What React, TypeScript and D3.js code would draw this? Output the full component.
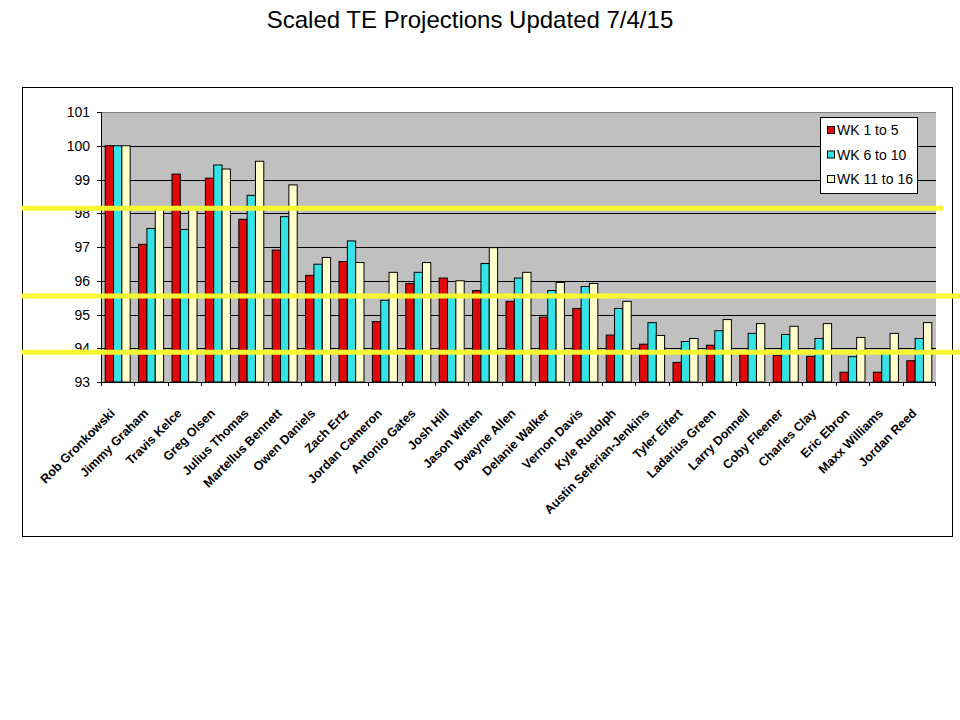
import React from "react";
import * as d3 from "d3";

const players = [
  "Rob Gronkowski", "Jimmy Graham", "Travis Kelce", "Greg Olsen", "Julius Thomas",
  "Martellus Bennett", "Owen Daniels", "Zach Ertz", "Jordan Cameron", "Antonio Gates",
  "Josh Hill", "Jason Witten", "Dwayne Allen", "Delanie Walker", "Vernon Davis",
  "Kyle Rudolph", "Austin Seferian-Jenkins", "Tyler Eifert", "Ladarius Green", "Larry Donnell",
  "Coby Fleener", "Charles Clay", "Eric Ebron", "Maxx Williams", "Jordan Reed",
];

const wk1to5 = [100, 97.08, 99.16, 99.04, 97.82, 96.91, 96.16, 96.57, 94.79, 95.92, 96.08, 95.71, 95.39, 94.92, 95.18, 94.39, 94.12, 93.58, 94.09, 93.88, 93.79, 93.76, 93.29, 93.29, 93.63];
const wk6to10 = [100, 97.55, 97.52, 99.43, 98.53, 97.9, 96.49, 97.18, 95.42, 96.25, 95.55, 96.51, 96.08, 95.71, 95.83, 95.18, 94.76, 94.2, 94.52, 94.44, 94.41, 94.29, 93.75, 93.88, 94.29];
const wk11to16 = [100, 98.12, 98.12, 99.31, 99.54, 98.84, 96.69, 96.54, 96.25, 96.54, 96.0, 96.98, 96.25, 95.95, 95.92, 95.39, 94.38, 94.29, 94.85, 94.73, 94.65, 94.73, 94.32, 94.44, 94.76];

const seriesNames = ["WK 1 to 5", "WK 6 to 10", "WK 11 to 16"];
const seriesColors = ["#e00a0a", "#33e3e6", "#ffffcc"];
const yTicks = [93, 94, 95, 96, 97, 98, 99, 100, 101];
const markerLevels = [98.15, 95.55, 93.88];

const title = "Scaled TE Projections Updated 7/4/15";

export default function App() {
  const W = 960, H = 720;
  const left = 101, right = 936, top = 112, bottom = 382;
  const series = [wk1to5, wk6to10, wk11to16];

  const x = d3.scaleBand<string>().domain(players).range([left, right]).paddingInner(0).paddingOuter(0);
  const y = d3.scaleLinear().domain([93, 101]).range([bottom, top]);
  const bw = x.bandwidth();
  const groupPad = 4.2;
  const sub = d3.scaleBand<number>().domain([0, 1, 2]).range([groupPad, bw - groupPad]);

  const markerExtents = [[22, 943], [22, 960], [22, 960]];

  return (
    <svg width={W} height={H} style={{ position: "absolute", left: 0, top: 0, display: "block", background: "#fff" }}
      fontFamily="'Liberation Sans', Arial, sans-serif">
      <rect x={0} y={0} width={W} height={H} fill="#fff" />
      <text x={470} y={28} textAnchor="middle" fontSize={24} fill="#000">{title}</text>
      <rect x={22.5} y={87.5} width={930} height={449} fill="#fff" stroke="#000" strokeWidth={1} />
      {/* plot area */}
      <rect x={left} y={top} width={right - left} height={bottom - top} fill="#c0c0c0" />
      <line x1={left} x2={right} y1={top + 0.5} y2={top + 0.5} stroke="#808080" strokeWidth={1} />
      {yTicks.filter((t) => t > 93 && t < 101).map((t) => (
        <line key={"g" + t} x1={left} x2={right} y1={Math.round(y(t)) + 0.5} y2={Math.round(y(t)) + 0.5} stroke="#000" strokeWidth={1} />
      ))}
      {/* bars */}
      {players.map((p, i) => (
        <g key={p}>
          {series.map((s, k) => (
            <rect key={k} x={(x(p) as number) + (sub(k) as number)} y={y(s[i])} width={sub.bandwidth()}
              height={y(93) - y(s[i])} fill={seriesColors[k]} stroke="#000" strokeWidth={1} />
          ))}
        </g>
      ))}
      {/* axes */}
      <line x1={left + 0.5} x2={left + 0.5} y1={top} y2={bottom} stroke="#000" />
      <line x1={left} x2={right} y1={bottom + 0.5} y2={bottom + 0.5} stroke="#000" />
      {yTicks.map((t) => (
        <g key={"yt" + t}>
          <line x1={left - 4} x2={left} y1={Math.round(y(t)) + 0.5} y2={Math.round(y(t)) + 0.5} stroke="#000" />
          <text x={90} y={y(t)} dy="0.36em" textAnchor="end" fontSize={14} fill="#000">{t}</text>
        </g>
      ))}
      {players.map((p, i) => (
        <line key={"xt" + i} x1={Math.round(x(p) as number) + 0.5} x2={Math.round(x(p) as number) + 0.5} y1={bottom} y2={bottom + 4} stroke="#000" />
      ))}
      <line x1={right - 0.5} x2={right - 0.5} y1={bottom} y2={bottom + 4} stroke="#000" />
      {players.map((p) => {
        const cx = (x(p) as number) + bw / 2;
        return (
          <text key={"xl" + p} transform={`translate(${cx - 2},414) rotate(-45)`} textAnchor="end"
            fontSize={12.5} fontWeight="bold" fill="#000">{p}</text>
        );
      })}
      {/* yellow marker lines */}
      {markerLevels.map((v, i) => (
        <line key={"m" + i} x1={markerExtents[i][0]} x2={markerExtents[i][1]} y1={y(v)} y2={y(v)} stroke="#f8f832" strokeWidth={5} />
      ))}
      {/* legend */}
      <rect x={820.5} y={117.5} width={97} height={76} fill="#fff" stroke="#000" strokeWidth={1} />
      {seriesNames.map((n, k) => (
        <g key={n}>
          <rect x={827.5} y={126.5 + k * 24.5} width={7} height={7} fill={seriesColors[k]} stroke="#000" strokeWidth={1} />
          <text x={837} y={135 + k * 24.5} fontSize={14} fill="#000">{n}</text>
        </g>
      ))}
    </svg>
  );
}
